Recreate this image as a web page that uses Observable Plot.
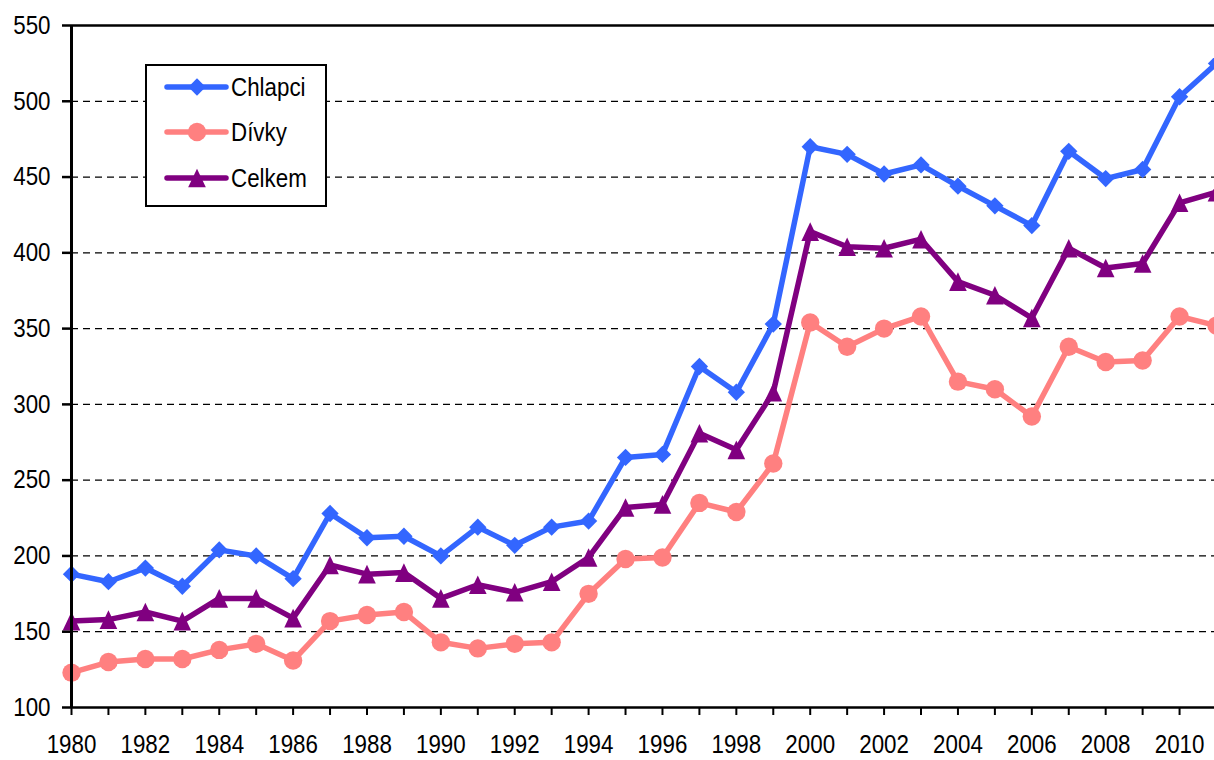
<!DOCTYPE html>
<html><head><meta charset="utf-8">
<script src="https://cdn.jsdelivr.net/npm/d3@7"></script>
<script src="https://cdn.jsdelivr.net/npm/@observablehq/plot@0.6"></script>
<style>
html,body{margin:0;padding:0;background:#fff;overflow:hidden;}
#wrap{position:relative;width:1214px;height:760px;overflow:hidden;}
#legend{position:absolute;left:145px;top:64px;width:178px;height:139px;border:2px solid #000;background:#fff;}
</style></head><body><div id="wrap"><div id="chart"></div><div id="legend"></div></div>
<script>
const years = [1980,1981,1982,1983,1984,1985,1986,1987,1988,1989,1990,1991,1992,1993,1994,1995,1996,1997,1998,1999,2000,2001,2002,2003,2004,2005,2006,2007,2008,2009,2010,2011];
const chlapci = [188,183,192,180,204,200,185,228,212,213,200,219,207,219,223,265,267,325,308,353,470,465,452,458,444,431,418,467,449,455,503,525];
const divky   = [123,130,132,132,138,142,131,157,161,163,143,139,142,143,175,198,199,235,229,261,354,338,350,358,315,310,292,338,328,329,358,352];
const celkem  = [157,158,163,157,172,172,159,194,188,189,172,181,176,183,199,232,234,281,270,308,414,404,403,409,381,372,357,403,390,393,433,440];
const seriesNames = ["Chlapci","Dívky","Celkem"];
const seriesColors = ["#3366FF","#FF8080","#800080"];
const yTicks = [100,150,200,250,300,350,400,450,500,550];
const gridValues = [150,200,250,300,350,400,450,500];

const font = '"Liberation Sans", Arial, sans-serif';
const squeeze = 0.86; // narrow look of the original typeface

// triangle centered on its bounding box (Excel style)
const triangleBox = {draw(ctx, size){ const a = Math.sqrt(size/Math.PI); ctx.moveTo(0,-a); ctx.lineTo(a*0.95,a); ctx.lineTo(-a*0.95,a); ctx.closePath(); }};
const seriesSymbols = ["diamond2","circle",triangleBox];
const seriesR = [7.8,9.2,9.3];

const rows = seriesNames.map((name,i) => {
  const vals = [chlapci,divky,celkem][i];
  return years.map((y,j) => ({series:name, year:y, value:vals[j]}));
});

const marks = [
  Plot.ruleY(gridValues, {stroke:"#000", strokeWidth:1.2, strokeDasharray:"7,5"}),
];
rows.forEach((data,i) => {
  marks.push(Plot.line(data, {x:"year", y:"value", stroke:seriesColors[i], strokeWidth:5.5, strokeLinejoin:"round"}));
  marks.push(Plot.dot(data, {x:"year", y:"value", fill:seriesColors[i], stroke:"none", symbol:()=>seriesSymbols[i], r:seriesR[i]}));
});
marks.push(
  Plot.ruleY([550], {stroke:"#000", strokeWidth:2.5}),
  Plot.ruleY([100], {stroke:"#000", strokeWidth:2.5}),
  Plot.ruleX([1980], {stroke:"#000", strokeWidth:3}),
  Plot.axisY({ticks:yTicks, tickSize:9, tickPadding:12, strokeWidth:2.5, fontSize:26, fill:"#000", stroke:"#000", tickFormat:d=>String(d), label:null}),
  Plot.axisX({ticks:years, tickSize:8, tickPadding:19, strokeWidth:2, fontSize:26, fill:"#000", stroke:"#000", tickFormat:d => d%2===0 ? String(d) : "", label:null})
);

const chart = Plot.plot({
  width:1214, height:760,
  marginLeft:71, marginTop:25, marginBottom:53, marginRight:0,
  x:{domain:[1980,2011], range:[71,1216], label:null},
  y:{domain:[100,550], range:[707,25], label:null},
  symbol:{type:"identity"},
  style:{fontFamily:font, fontSize:"26px", color:"#000", background:"#fff", overflow:"hidden"},
  marks
});
document.getElementById("chart").appendChild(chart);
// narrow the tick label glyphs around their anchors
d3.select(chart).selectAll("g[aria-label$='tick label'] text").each(function(){
  const t = this.getAttribute("transform") || "";
  this.setAttribute("transform", t + ` scale(${squeeze},1)`);
});

// legend
const lg = d3.select("#legend").append("svg").attr("width",178).attr("height",139).style("display","block");
const rowY = [21,66,112];
seriesNames.forEach((name,i) => {
  const g = lg.append("g").attr("transform",`translate(0,${rowY[i]})`);
  g.append("line").attr("x1",20).attr("x2",79).attr("y1",0).attr("y2",0).attr("stroke",seriesColors[i]).attr("stroke-width",5.5).attr("stroke-linecap","round");
  const sym = i===0 ? d3.symbol(d3.symbolDiamond2, Math.PI*7.8*7.8) : i===1 ? d3.symbol(d3.symbolCircle, Math.PI*9.2*9.2) : d3.symbol(triangleBox, Math.PI*9.3*9.3);
  g.append("path").attr("d",sym()).attr("transform","translate(50,0)").attr("fill",seriesColors[i]);
  g.append("text").attr("transform",`translate(84,0) scale(${squeeze},1)`).attr("dy","0.36em").attr("font-family",font).attr("font-size",26).attr("fill","#000").text(name);
});
</script></body></html>
